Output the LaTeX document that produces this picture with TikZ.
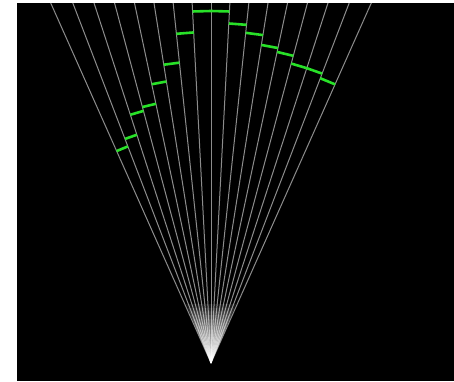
\documentclass[tikz,border=0pt]{standalone}
\usetikzlibrary{calc}
\definecolor{hitgreen}{RGB}{40,225,40}
\begin{document}
\begin{tikzpicture}[x=1pt,y=1pt,
  beam/.style={white,opacity=0.55,line width=1pt},
  glow/.style={white,opacity=0.09},
  hit/.style={hitgreen,line width=2.6pt}]
\useasboundingbox (0,0) rectangle (454,381);
\fill[black] (17,0) rectangle (454,378);
\coordinate (A) at (211,18);
\begin{scope}
  \clip (17,0) rectangle (454,378);
  \foreach \r in {8,12,...,64}
    \fill[glow] (A) -- +(113:\r) -- +(67:\r) -- cycle;
  \foreach \t in {-24,-21,...,24}
    \draw[beam] (A) -- +({90-\t}:420);
\end{scope}
\foreach \c/\d in {-22.5/232,-19.5/240,-16.5/261,-13.5/265,-10.5/285,-7.5/302,-4.5/331,-1.5/352,1.5/352,4.5/340,7.5/332,10.5/322,13.5/318,16.5/310,19.5/310,22.5/305}
  \draw[hit] ($(A)+({91.5-\c}:\d)$) -- ($(A)+({88.5-\c}:\d)$);
\end{tikzpicture}
\end{document}
